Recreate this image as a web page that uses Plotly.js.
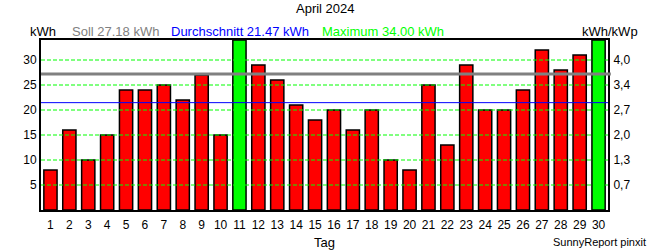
<!DOCTYPE html>
<html>
<head>
<meta charset="utf-8">
<script src="https://cdn.plot.ly/plotly-3.0.1.min.js"></script>
<style>html,body{margin:0;padding:0;background:#fff;}#chart{width:650px;height:250px;}</style>
</head>
<body>
<div id="chart"></div>
<script>
const days = ['1','2','3','4','5','6','7','8','9','10','11','12','13','14','15','16','17','18','19','20','21','22','23','24','25','26','27','28','29','30'];
const energyKWh = [8,16,10,15,24,24,25,22,27,15,34,29,26,21,18,20,16,20,10,8,25,13,29,20,20,24,32,28,31,34];
const sollKWh = 27.18;
const avgKWh = 21.47;
const maxKWh = 34.00;
const leftTicks = [5,10,15,20,25,30];
const rightTickLabels = ['0,7','1,3','2,0','2,7','3,4','4,0'];

const FONT = 'Liberation Sans, Arial, sans-serif';
const colors = energyKWh.map(v => v === maxKWh ? '#00ff00' : '#ff0000');

const traces = [{
  type: 'bar', x: days, y: energyKWh,
  marker: {color: colors, line: {color: '#000', width: 1.5}},
  width: 0.7, hoverinfo: 'none'
}, {
  type: 'scatter', x: [days[0]], y: [0], yaxis: 'y2', mode: 'none', showlegend: false, hoverinfo: 'none'
}];

const shapes = leftTicks.map(t => ({
  type: 'line', xref: 'paper', x0: 0, x1: 1, yref: 'y', y0: t, y1: t, layer: 'above',
  line: {color: '#00ff00', width: 1, dash: '4px,2px'}
}));
shapes.push({type: 'line', xref: 'paper', x0: 0, x1: 1.005, yref: 'y', y0: sollKWh, y1: sollKWh, layer: 'above', line: {color: '#808080', width: 3}});
shapes.push({type: 'line', xref: 'paper', x0: 0, x1: 1, yref: 'y', y0: avgKWh, y1: avgKWh, layer: 'above', line: {color: '#0000ff', width: 1}});

function topAnn(text, xpx, color, anchor) {
  return {text: text, xref: 'paper', yref: 'paper', x: (xpx - 41) / 567, y: 1, yshift: -1,
    xanchor: anchor || 'left', yanchor: 'bottom', showarrow: false,
    font: {family: FONT, size: 13, color: color}};
}

const annotations = [
  {text: 'April 2024', xref: 'paper', yref: 'paper', x: (325 - 41) / 567, y: 1, yshift: 32,
    xanchor: 'center', yanchor: 'middle', showarrow: false, font: {family: FONT, size: 13, color: '#000'}},
  topAnn('kWh', 28, '#000'),
  topAnn('Soll ' + sollKWh.toFixed(2) + ' kWh', 70, '#808080'),
  topAnn('Durchschnitt ' + avgKWh.toFixed(2) + ' kWh', 169, '#0000ff'),
  topAnn('Maximum ' + maxKWh.toFixed(2) + ' kWh', 320, '#00ff00'),
  topAnn('kWh/kWp', 640, '#000', 'right'),
  {text: 'SunnyReport pinxit', xref: 'paper', yref: 'paper', x: (648 - 41) / 567, y: 0, yshift: -24,
    xanchor: 'right', yanchor: 'top', showarrow: false, font: {family: FONT, size: 11, color: '#000'}}
];

const layout = {
  width: 650, height: 250,
  margin: {l: 41, r: 42, t: 40, b: 40},
  paper_bgcolor: '#fff', plot_bgcolor: '#fff',
  font: {family: FONT, size: 12, color: '#000'},
  showlegend: false,
  bargap: 0.3,
  xaxis: {
    type: 'category', showgrid: false, zeroline: false,
    showline: true, mirror: true, linecolor: '#000', linewidth: 2,
    ticks: 'outside', ticklen: 3, tickcolor: 'rgba(0,0,0,0)',
    tickfont: {family: FONT, size: 12, color: '#000'},
    title: {text: 'Tag', standoff: 6, font: {family: FONT, size: 13, color: '#000'}},
    fixedrange: true
  },
  yaxis: {
    range: [0, maxKWh], tickvals: leftTicks, showgrid: false, zeroline: false,
    showline: true, mirror: true, linecolor: '#000', linewidth: 2,
    ticks: '', tickfont: {family: FONT, size: 12, color: '#000'}, fixedrange: true
  },
  yaxis2: {
    overlaying: 'y', side: 'right', range: [0, maxKWh], tickvals: leftTicks, ticktext: rightTickLabels,
    showgrid: false, zeroline: false, showline: false, ticks: 'outside', ticklen: 2, tickcolor: 'rgba(0,0,0,0)',
    tickfont: {family: FONT, size: 12, color: '#000'}, fixedrange: true
  },
  shapes: shapes,
  annotations: annotations
};

Plotly.newPlot('chart', traces, layout, {displayModeBar: false, staticPlot: true});
</script>
</body>
</html>
